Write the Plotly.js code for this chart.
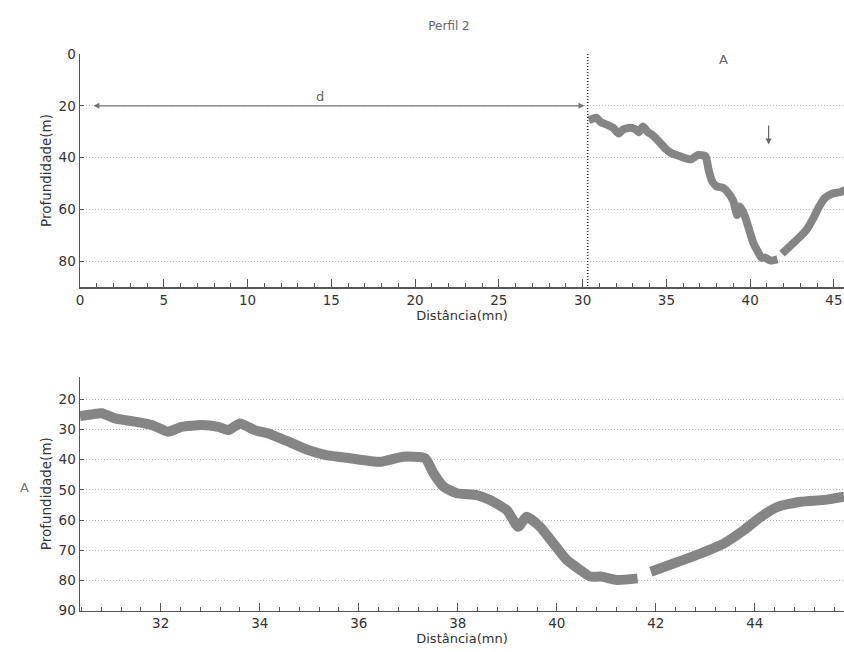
<!DOCTYPE html>
<html>
<head>
<meta charset="utf-8">
<script src="https://cdn.plot.ly/plotly-3.0.1.min.js"></script>
<style>html,body{margin:0;padding:0;background:#fff;}#chart{width:844px;height:652px;}</style>
</head>
<body>
<div id="chart"></div>
<script>
// Depth profile (distance in nautical miles, depth in metres)
const distance = [30.37, 30.6, 30.81, 31.08, 31.48, 31.82, 32.15, 32.42, 32.83, 33.16, 33.37, 33.6, 33.9, 34.17, 34.58, 34.98, 35.32, 35.82, 36.43, 36.9, 37.34, 37.51, 37.71, 37.98, 38.38, 38.65, 38.99, 39.22, 39.39, 39.66, 39.93, 40.2, 40.47, 40.67, 40.89, 41.22, 41.63, 41.78, 41.9, 42.37, 42.91, 43.38, 43.78, 44.12, 44.46, 44.93, 45.4, 45.8];
const depth = [25.5, 25.0, 24.6, 26.3, 27.4, 28.5, 30.7, 29.1, 28.5, 29.1, 30.2, 28.0, 30.2, 31.3, 34.0, 36.8, 38.4, 39.5, 40.7, 39.0, 39.5, 44.5, 48.9, 51.1, 51.7, 53.3, 56.7, 62.2, 58.9, 62.2, 67.7, 73.2, 76.5, 78.7, 78.7, 79.8, 79.3, null, 77.1, 74.3, 71.0, 67.7, 63.3, 58.9, 55.6, 53.9, 53.3, 52.2];

const topDepthTicks = [0, 20, 40, 60, 80];
const bottomDepthTicks = [20, 30, 40, 50, 60, 70, 80, 90];

// Annotation anchors (data values)
const sectionStart = 30.3;      // dotted vertical line
const dArrowFrom = 0.8, dArrowTo = 30.2, dArrowDepth = 20;
const dLabel = {x: 14.35, y: 16.5};
const aLabelX = 38.4;
const downArrow = {x: 41.1, from: 27, to: 35};

const W = 844, H = 652;
const gray = '#555';
const band = '#858585';
const FONT = 'DejaVu Sans, sans-serif';

const traces = [
  {x: distance, y: depth, xaxis: 'x', yaxis: 'y', mode: 'lines', connectgaps: false,
   line: {color: band, width: 8, shape: 'spline', smoothing: 0.5}, hoverinfo: 'skip'},
  {x: distance, y: depth, xaxis: 'x2', yaxis: 'y2', mode: 'lines', connectgaps: false,
   line: {color: band, width: 10, shape: 'spline', smoothing: 0.5}, hoverinfo: 'skip'}
];

const axisCommon = {
  showline: true, linecolor: gray, linewidth: 1.5, zeroline: false,
  ticks: 'inside', tickcolor: gray, automargin: false, mirror: false,
  tickfont: {family: FONT, size: 13.5, color: '#333'}
};
const gridStyle = {showgrid: true, gridcolor: '#b8b8b8', griddash: '1px,2px', gridwidth: 1};

const layout = {
  width: W, height: H,
  margin: {l: 0, r: 0, t: 0, b: 0},
  paper_bgcolor: '#fff', plot_bgcolor: '#fff',
  showlegend: false,
  font: {family: FONT, size: 13, color: '#444'},
  title: {text: 'Perfil 2', x: 449 / W, xanchor: 'center', xref: 'paper', y: 1 - 26 / H, yanchor: 'middle', yref: 'container',
          font: {family: FONT, size: 12, color: '#666'}},
  xaxis: Object.assign({}, axisCommon, {
    domain: [80 / W, 1], range: [0, 45.6], anchor: 'y',
    tick0: 0, dtick: 5, ticklen: 8, showgrid: false,
    minor: {dtick: 1, tick0: 0, ticks: 'inside', ticklen: 4, tickcolor: gray, showgrid: false},
    title: {text: 'Distância(mn)', standoff: 3, font: {family: FONT, size: 13, color: '#333'}}
  }),
  yaxis: Object.assign({}, axisCommon, gridStyle, {
    domain: [1 - 287 / H, 1 - 54 / H], range: [90, 0], anchor: 'x',
    tickmode: 'array', tickvals: topDepthTicks, ticklen: 4,
    title: {text: 'Profundidade(m)', standoff: 4, font: {family: FONT, size: 13.5, color: '#333'}}
  }),
  xaxis2: Object.assign({}, axisCommon, {
    domain: [80 / W, 1], range: [30.37, 45.8], anchor: 'y2',
    tick0: 0, dtick: 2, ticklen: 8, showgrid: false,
    minor: {dtick: 0.4, tick0: 0, ticks: 'inside', ticklen: 4, tickcolor: gray, showgrid: false},
    title: {text: 'Distância(mn)', standoff: 3, font: {family: FONT, size: 13, color: '#333'}}
  }),
  yaxis2: Object.assign({}, axisCommon, gridStyle, {
    domain: [1 - 610.7 / H, 1 - 376.7 / H], range: [90, 12.5], anchor: 'x2',
    tickmode: 'array', tickvals: bottomDepthTicks, ticklen: 4,
    title: {text: 'Profundidade(m)', standoff: 4, font: {family: FONT, size: 13.5, color: '#333'}}
  }),
  shapes: [
    {type: 'line', xref: 'x', yref: 'y', x0: sectionStart, x1: sectionStart, y0: 0, y1: 90,
     line: {color: '#333', width: 1.5, dash: '1px,2px'}}
  ],
  annotations: [
    {xref: 'x', yref: 'y', x: dArrowFrom, y: dArrowDepth, axref: 'x', ayref: 'y', ax: dArrowTo, ay: dArrowDepth,
     text: '', showarrow: true, arrowhead: 2, arrowside: 'end+start', arrowsize: 1, arrowwidth: 1.2, arrowcolor: '#777'},
    {xref: 'x', yref: 'y', x: dLabel.x, y: dLabel.y, text: 'd', showarrow: false,
     font: {family: FONT, size: 13, color: '#666'}},
    {xref: 'x', yref: 'paper', x: aLabelX, y: 1 - 50 / H, text: 'A', showarrow: false,
     font: {family: FONT, size: 13, color: '#666'}},
    {xref: 'x', yref: 'y', x: downArrow.x, y: downArrow.to, axref: 'x', ayref: 'y', ax: downArrow.x, ay: downArrow.from,
     text: '', showarrow: true, arrowhead: 2, arrowsize: 1, arrowwidth: 1.2, arrowcolor: '#666'},
    {xref: 'paper', yref: 'paper', x: 18 / W, y: 1 - 497 / H, text: 'A', showarrow: false,
     font: {family: FONT, size: 13, color: '#777'}}
  ]
};

Plotly.newPlot('chart', traces, layout, {staticPlot: true, displayModeBar: false});
</script>
</body>
</html>
